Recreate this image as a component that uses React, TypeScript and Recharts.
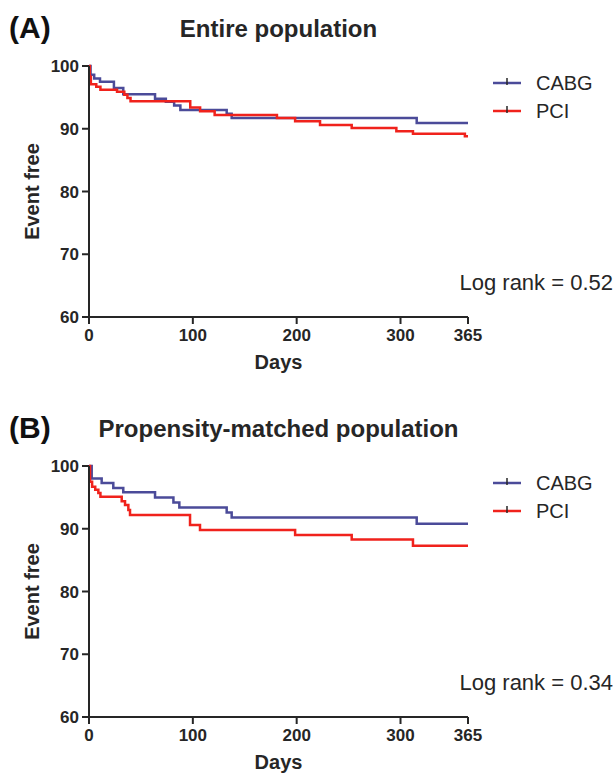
import React from 'react';
import { LineChart, Line, XAxis, YAxis } from 'recharts';

// Kaplan-Meier steps (day, % event free)
const cabgDaysA = [0, 1.5, 5, 10.6, 24, 33, 63.6, 74, 82, 88, 132.6, 137.4, 315.6, 365];
const cabgFreeA = [100, 98.6, 98.0, 97.5, 96.5, 95.5, 94.8, 94.3, 93.7, 93.0, 92.4, 91.7, 90.9, 90.9];
const pciDaysA = [0, 0.8, 1.8, 7, 11, 27, 34, 37, 40, 97.5, 107, 121, 181, 198.5, 222.5, 253, 296, 312, 362, 365];
const pciFreeA = [100, 98.3, 97.1, 96.7, 96.2, 95.9, 95.4, 94.9, 94.4, 93.4, 92.8, 92.2, 91.7, 91.2, 90.6, 90.1, 89.6, 89.2, 88.8, 88.8];

const cabgDaysB = [0, 2.6, 12.2, 23.4, 33, 63.6, 81.3, 87, 132.6, 137.4, 315.6, 365];
const cabgFreeB = [100, 98.0, 97.3, 96.5, 95.8, 95.0, 94.2, 93.4, 92.6, 91.8, 90.8, 90.8];
const pciDaysB = [0, 1, 3, 6, 9, 11, 31.5, 34.7, 37.9, 39.5, 97.3, 106.9, 198.5, 253, 312, 365];
const pciFreeB = [100, 97.5, 96.7, 96.2, 95.7, 95.1, 94.4, 93.8, 93.0, 92.2, 90.6, 89.8, 89.0, 88.3, 87.3, 87.3];

const xTicks = [0, 100, 200, 300, 365];
const yTicks = [60, 70, 80, 90, 100];
const seriesNames = ['CABG', 'PCI'];

const BLUE = '#4b4b99';
const RED = '#f0221c';
const INK = '#262626';

const toRows = (days: number[], vals: number[]) => days.map((d, i) => ({ day: d, value: vals[i] }));

type PanelProps = {
  top: number;
  tag: string;
  title: string;
  logRank: string;
  cabg: { day: number; value: number }[];
  pci: { day: number; value: number }[];
};

const tickStyle = { fontSize: 17, fontWeight: 'bold', fill: INK };

const Panel = ({ top, tag, title, logRank, cabg, pci }: PanelProps) => (
  <div style={{ position: 'absolute', left: 0, top, width: 615, height: 400 }}>
    <LineChart width={615} height={400} margin={{ top: 66, right: 147, bottom: 53, left: 29 }}>
      <XAxis
        dataKey="day"
        type="number"
        domain={[0, 365]}
        ticks={xTicks}
        height={30}
        tick={tickStyle}
        tickSize={7}
        tickMargin={5}
        axisLine={{ stroke: INK, strokeWidth: 2 }}
        tickLine={{ stroke: INK, strokeWidth: 2 }}
        label={{ value: 'Days', position: 'bottom', offset: 8, style: { fontSize: 20, fontWeight: 'bold', fill: INK } }}
      />
      <YAxis
        type="number"
        domain={[60, 100]}
        ticks={yTicks}
        width={60}
        tick={tickStyle}
        tickSize={7}
        tickMargin={3}
        axisLine={{ stroke: INK, strokeWidth: 2 }}
        tickLine={{ stroke: INK, strokeWidth: 2 }}
        label={{
          value: 'Event free',
          angle: -90,
          position: 'insideLeft',
          offset: 3,
          style: { textAnchor: 'middle', fontSize: 20, fontWeight: 'bold', fill: INK },
        }}
      />
      <Line data={cabg} dataKey="value" name="CABG" type="stepAfter" stroke={BLUE} strokeWidth={2.5} dot={false} isAnimationActive={false} />
      <Line data={pci} dataKey="value" name="PCI" type="stepAfter" stroke={RED} strokeWidth={2.5} dot={false} isAnimationActive={false} />
    </LineChart>
    <svg width={615} height={400} style={{ position: 'absolute', left: 0, top: 0, pointerEvents: 'none' }}>
      <text x={9} y={38} fontSize={30} fontWeight="bold" fill="#111">{tag}</text>
      <text x={278.5} y={37} fontSize={24} fontWeight="bold" fill={INK} textAnchor="middle">{title}</text>
      {seriesNames.map((name, i) => {
        const y = 83 + i * 28;
        return (
          <g key={name}>
            <line x1={493} x2={521} y1={y} y2={y} stroke={i === 0 ? BLUE : RED} strokeWidth={2.5} />
            <line x1={507} x2={507} y1={y - 5} y2={y + 2} stroke={INK} strokeWidth={1.5} />
            <text x={536} y={y + 7} fontSize={20} fill={INK}>{name}</text>
          </g>
        );
      })}
      <text x={613} y={290} fontSize={22} fill={INK} textAnchor="end">{logRank}</text>
    </svg>
  </div>
);

export default function App() {
  return (
    <div
      style={{
        position: 'absolute',
        left: 0,
        top: 0,
        width: 615,
        height: 776,
        background: '#fff',
        fontFamily: '"Liberation Sans", Arial, Helvetica, sans-serif',
      }}
    >
      <Panel
        top={0}
        tag="(A)"
        title="Entire population"
        logRank="Log rank = 0.52"
        cabg={toRows(cabgDaysA, cabgFreeA)}
        pci={toRows(pciDaysA, pciFreeA)}
      />
      <Panel
        top={400}
        tag="(B)"
        title="Propensity-matched population"
        logRank="Log rank = 0.34"
        cabg={toRows(cabgDaysB, cabgFreeB)}
        pci={toRows(pciDaysB, pciFreeB)}
      />
    </div>
  );
}
